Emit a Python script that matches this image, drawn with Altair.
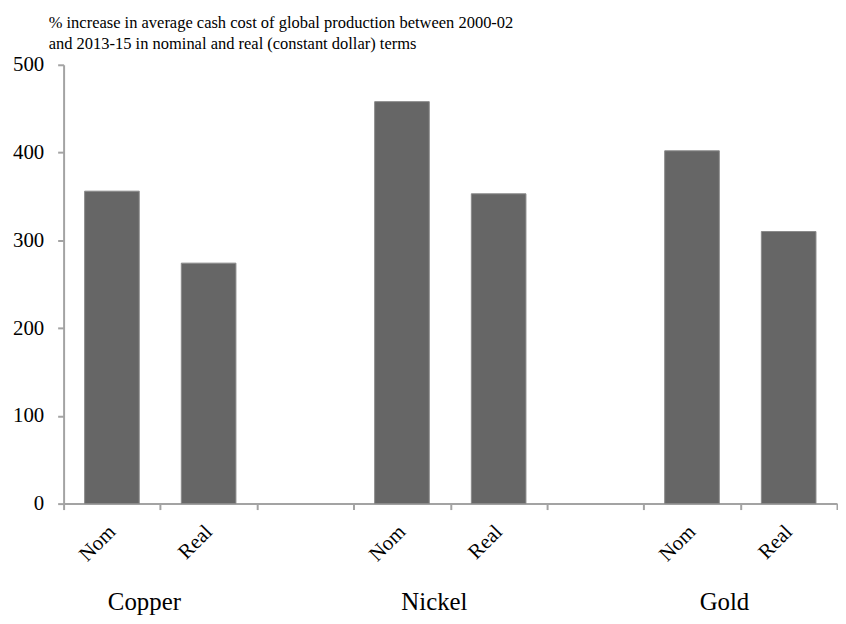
import altair as alt
import pandas as pd

groups = ["Copper", "Nickel", "Gold"]
types = ["Nom", "Real"]
nominal = [356, 458, 402]
real = [274, 353, 310]
y_ticks = [0, 100, 200, 300, 400, 500]
title_lines = [
    "% increase in average cash cost of global production between 2000-02",
    "and 2013-15 in nominal and real (constant dollar) terms",
]

# slot order on the x axis (with empty gap slots between groups)
domain = []
for i, g in enumerate(groups):
    domain += [f"{g} {types[0]}", f"{g} {types[1]}"]
    if i < len(groups) - 1:
        domain.append(f"gap{i + 1}")

rows = []
for g, n, r in zip(groups, nominal, real):
    rows.append({"slot": f"{g} {types[0]}", "value": n})
    rows.append({"slot": f"{g} {types[1]}", "value": r})
bars_df = pd.DataFrame(rows)
labels_df = pd.DataFrame({"group": groups, "slot": [f"{g} {types[1]}" for g in groups]})

FONT = "Liberation Serif"
AXIS_GRAY = "#a3a3a3"

xscale = alt.Scale(domain=domain, paddingInner=0, paddingOuter=0)

bars = alt.Chart(bars_df).mark_bar(
    color="#666666", stroke="#8a8a8a", strokeWidth=1,
    width=alt.RelativeBandSize(0.565),
).encode(
    x=alt.X("slot:N", scale=xscale, sort=domain, axis=alt.Axis(
        title=None, tickBand="extent", labelAngle=-45, labelAlign="right",
        labelBaseline="middle", labelPadding=19, tickSize=6, tickWidth=2,
        tickColor=AXIS_GRAY, domainColor=AXIS_GRAY, domainWidth=2,
        labelFont=FONT, labelFontSize=21, labelColor="black",
        labelExpr="indexof(datum.label, 'gap') >= 0 ? '' : split(datum.label, ' ')[1]",
    )),
    y=alt.Y("value:Q", scale=alt.Scale(domain=[0, 500], nice=False), axis=alt.Axis(
        title=None, values=y_ticks, grid=False, tickSize=6, tickWidth=2,
        tickColor=AXIS_GRAY, domainColor=AXIS_GRAY, domainWidth=2,
        labelFont=FONT, labelFontSize=21, labelColor="black", labelPadding=14,
    )),
)

group_text = alt.Chart(labels_df).mark_text(
    font=FONT, fontSize=25, color="black", baseline="alphabetic", dx=-16,
).encode(
    x=alt.X("slot:N", scale=xscale, sort=domain, bandPosition=0),
    y=alt.value(549),
    text="group:N",
)

chart = alt.layer(bars, group_text).properties(
    width=779,
    height=442,
    autosize=alt.AutoSizeParams(type="none"),
    padding={"left": 56, "top": 55, "right": 1, "bottom": 111},
    title=alt.TitleParams(
        text=title_lines, anchor="start", frame="group", dx=-15,
        font=FONT, fontSize=16.6, fontWeight="normal", color="black",
        lineHeight=21.5, offset=1,
    ),
).configure_view(stroke=None)

chart.save("out.html", embed_options={"renderer": "svg", "actions": False})
